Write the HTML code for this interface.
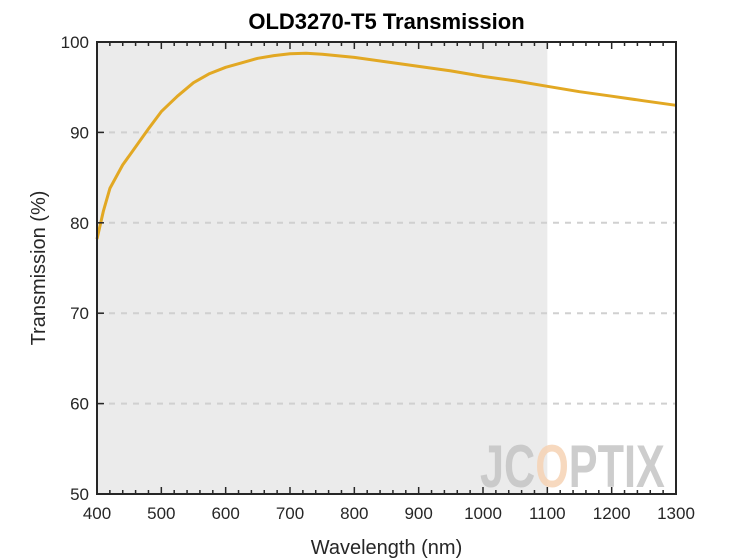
<!DOCTYPE html>
<html><head><meta charset="utf-8"><style>body{margin:0;background:#fff}svg{display:block;font-family:"Liberation Sans",sans-serif}</style></head>
<body>
<svg id="c" width="747" height="560"></svg>
<script>
const wavelengths=[400,410,420,440,460,480,500,525,550,575,600,625,650,675,700,725,750,800,850,900,950,1000,1050,1100,1150,1200,1250,1300];
const transmission=[78.2,81.3,83.8,86.4,88.4,90.4,92.3,94.0,95.5,96.5,97.2,97.7,98.2,98.5,98.7,98.75,98.65,98.3,97.8,97.3,96.8,96.2,95.7,95.1,94.5,94.0,93.5,93.0];
const xTicks=[400,500,600,700,800,900,1000,1100,1200,1300];
const yTicks=[50,60,70,80,90,100];
const shadeMax=1100;
const L=97,R=676,T=42,B=494;
const X=v=>L+(v-400)/(900)*(R-L);
const Y=v=>B-(v-50)/50*(B-T);
const s=document.getElementById('c');const NS='http://www.w3.org/2000/svg';
function mk(t,a,p){const e=document.createElementNS(NS,t);for(const k in a)e.setAttribute(k,a[k]);(p||s).appendChild(e);return e;}
let e=mk('rect',{x:L,y:T,width:X(shadeMax)-L,height:B-T,fill:'#ebebeb'});


yTicks.slice(1,-1).forEach(v=>{const g=mk('line',{x1:L,x2:R,y1:Y(v),y2:Y(v),stroke:'#d0d0d0','stroke-width':2,'stroke-dasharray':'6,6'});

});
const wm=mk('g',{});


const wt=mk('text',{x:0,y:0,'font-size':60,'font-weight':'bold',fill:'#c4c4c4','fill-opacity':0.85,transform:'translate(480,487) scale(0.72,1)'},wm);
wt.innerHTML='JC<tspan fill="#f6d2b4">O</tspan>PTIX';
const d=wavelengths.map((w,i)=>(i?'L':'M')+X(w).toFixed(1)+','+Y(transmission[i]).toFixed(1)).join('');
e=mk('path',{d:d,fill:'none',stroke:'#e2a823','stroke-width':3,'stroke-linejoin':'round'});


e=mk('rect',{x:L,y:T,width:R-L,height:B-T,fill:'none',stroke:'#262626','stroke-width':2});


for(let v=400;v<=1300;v+=20){const maj=(v%100===0);const h=maj?7:4;
mk('line',{x1:X(v),x2:X(v),y1:B,y2:B-h,stroke:'#262626','stroke-width':1.5});
mk('line',{x1:X(v),x2:X(v),y1:T,y2:T+h,stroke:'#262626','stroke-width':1.5});}
xTicks.forEach(v=>{const t=mk('text',{x:X(v),y:B+25,'text-anchor':'middle','font-size':17,fill:'#262626'});t.textContent=v;

});
yTicks.forEach(v=>{mk('line',{x1:L,x2:L+7,y1:Y(v),y2:Y(v),stroke:'#262626','stroke-width':1.5});
const t=mk('text',{x:L-8,y:Y(v)+6,'text-anchor':'end','font-size':17,fill:'#262626'});t.textContent=v;

});
e=mk('text',{x:(L+R)/2,y:554,'text-anchor':'middle','font-size':20,fill:'#262626'});e.textContent='Wavelength (nm)';


e=mk('text',{x:0,y:0,'text-anchor':'middle','font-size':20,fill:'#262626',transform:`translate(45,${(T+B)/2}) rotate(-90)`});e.textContent='Transmission (%)';


e=mk('text',{x:(L+R)/2,y:29,'text-anchor':'middle','font-size':22,'font-weight':'bold',fill:'#000'});e.textContent='OLD3270-T5 Transmission';


</script>
</body></html>
